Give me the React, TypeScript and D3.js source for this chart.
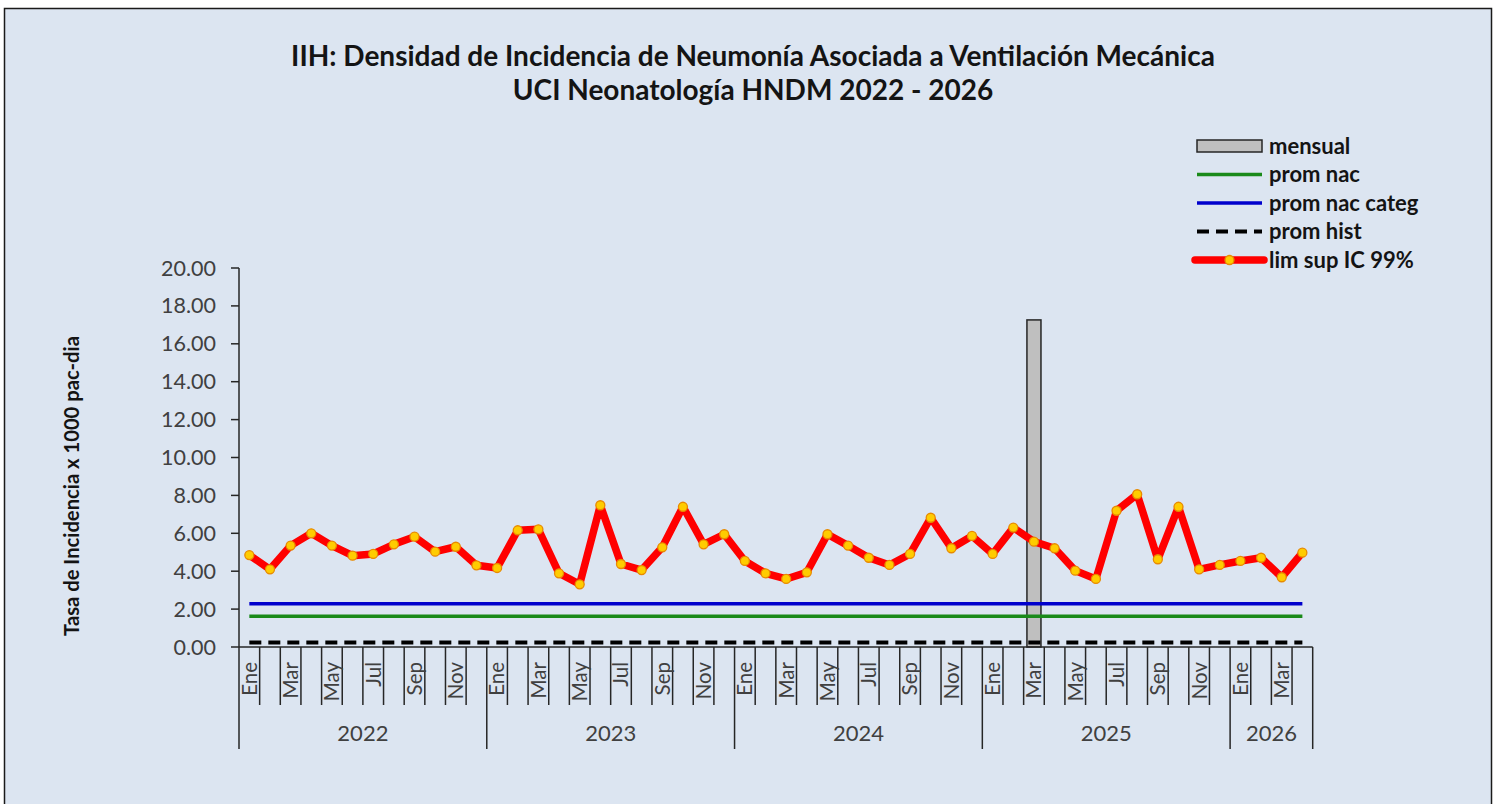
import React from "react";
import * as d3 from "d3";

const monthNames = ["Ene", "Feb", "Mar", "Abr", "May", "Jun", "Jul", "Ago", "Sep", "Oct", "Nov", "Dic"];
const years = ["2022", "2023", "2024", "2025", "2026"];
const monthsPerYear = [12, 12, 12, 12, 4];

const limSup = [
  4.85, 4.10, 5.35, 6.00, 5.35, 4.82, 4.91, 5.42, 5.82, 5.03, 5.29, 4.31,
  4.17, 6.16, 6.21, 3.89, 3.31, 7.48, 4.38, 4.06, 5.26, 7.40, 5.42, 5.95,
  4.54, 3.89, 3.59, 3.94, 5.95, 5.35, 4.71, 4.33, 4.91, 6.82, 5.21, 5.86,
  4.91, 6.30, 5.56, 5.21, 4.03, 3.59, 7.19, 8.06, 4.63, 7.40, 4.10, 4.33,
  4.54, 4.71, 3.68, 4.98,
];
const mensual = [
  0, 0, 0, 0, 0, 0, 0, 0, 0, 0, 0, 0,
  0, 0, 0, 0, 0, 0, 0, 0, 0, 0, 0, 0,
  0, 0, 0, 0, 0, 0, 0, 0, 0, 0, 0, 0,
  0, 0, 17.26, 0, 0, 0, 0, 0, 0, 0, 0, 0,
  0, 0, 0, 0,
];
const promNac = 1.62;
const promNacCateg = 2.28;
const promHist = 0.24;
const yTicks = [0, 2, 4, 6, 8, 10, 12, 14, 16, 18, 20];

const titleLines = [
  "IIH: Densidad de Incidencia de Neumonía Asociada a Ventilación Mecánica",
  "UCI Neonatología HNDM 2022 - 2026",
];
const yTitle = "Tasa de Incidencia x 1000 pac-dia";
const legendLabels = ["mensual", "prom nac", "prom nac categ", "prom hist", "lim sup IC 99%"];

const FONT = "Lato, 'Open Sans', 'DejaVu Sans', sans-serif";

export default function App() {
  const W = 1494, H = 804;
  const left = 239, right = 1312.7, top = 268, bottom = 647;

  const cats: { year: string; month: string; idx: number; mi: number }[] = [];
  years.forEach((y, yi) => {
    for (let m = 0; m < monthsPerYear[yi]; m++) cats.push({ year: y, month: monthNames[m], idx: cats.length, mi: m });
  });
  const n = cats.length;

  const x = d3.scaleBand<number>().domain(d3.range(n)).range([left, right]).paddingInner(0.32).paddingOuter(0.16);
  const step = x.step();
  const cx = (i: number) => (x(i) as number) + x.bandwidth() / 2;
  const boundary = (i: number) => left + step * i;
  const y = d3.scaleLinear().domain([0, 20]).range([bottom, top]);

  const line = d3.line<number>().x((_, i) => cx(i)).y((d) => y(d));

  const yearStarts: number[] = [];
  let acc = 0;
  monthsPerYear.forEach((c) => { yearStarts.push(acc); acc += c; });

  const x0 = cx(0), x1 = cx(n - 1);
  const lg = { x0: 1197, x1: 1262, tx: 1269, rows: [146, 174.5, 203, 231.5, 260] };

  return (
    <svg width={W} height={H} style={{ position: "absolute", left: 0, top: 0, display: "block" }} fontFamily={FONT}>
      <rect x={0} y={0} width={W} height={H} fill="#ffffff" />
      <rect x={4.5} y={8.5} width={1487} height={830} fill="#dce5f1" stroke="#1a1a1a" strokeWidth={1.5} />

      {/* title */}
      {titleLines.map((t, i) => (
        <text key={i} x={753} y={66 + i * 34} textAnchor="middle" fontSize={28} fontWeight={700} fill="#141414">{t}</text>
      ))}

      {/* y axis title */}
      <text transform={`translate(79,486) rotate(-90)`} textAnchor="middle" fontSize={20.2} fontWeight={700} fill="#141414">{yTitle}</text>

      {/* bars */}
      {mensual.map((v, i) => v > 0 ? (
        <rect key={i} x={x(i)} y={y(v)} width={x.bandwidth()} height={y(0) - y(v)} fill="#bfbfbf" stroke="#262626" strokeWidth={1.5} />
      ) : null)}

      {/* reference lines */}
      <line x1={x0} x2={x1} y1={y(promNacCateg)} y2={y(promNacCateg)} stroke="#0000cc" strokeWidth={3.5} />
      <line x1={x0} x2={x1} y1={y(promNac)} y2={y(promNac)} stroke="#1a8a1a" strokeWidth={3.5} />
      <line x1={x0} x2={x1} y1={y(promHist)} y2={y(promHist)} stroke="#000000" strokeWidth={4} strokeDasharray="12 7" />

      {/* red line */}
      <path d={line(limSup) || ""} fill="none" stroke="#ff0000" strokeWidth={7.5} strokeLinejoin="round" />
      {limSup.map((v, i) => (
        <circle key={i} cx={cx(i)} cy={y(v)} r={4.5} fill="#ffcc00" stroke="#e88a00" strokeWidth={1.3} />
      ))}

      {/* y axis */}
      <line x1={left} x2={left} y1={top} y2={bottom} stroke="#262626" strokeWidth={1.5} />
      {yTicks.map((t) => (
        <g key={t}>
          <line x1={left - 8} x2={left} y1={y(t)} y2={y(t)} stroke="#262626" strokeWidth={1.5} />
          <text x={216} y={y(t)} dy="0.35em" textAnchor="end" fontSize={21.5} fill="#404040">{d3.format(".2f")(t)}</text>
        </g>
      ))}

      {/* x axis */}
      <line x1={left} x2={right} y1={bottom} y2={bottom} stroke="#262626" strokeWidth={1.5} />
      {d3.range(n + 1).map((i) => {
        const isYear = yearStarts.includes(i) || i === n;
        return <line key={i} x1={boundary(i)} x2={boundary(i)} y1={bottom} y2={isYear ? 749 : 705} stroke="#262626" strokeWidth={1.5} />;
      })}
      {cats.map((c) => c.mi % 2 === 0 ? (
        <text key={c.idx} transform={`translate(${cx(c.idx)},662) rotate(-90)`} dy="0.36em" textAnchor="end" fontSize={20.5} fill="#404040">{c.month}</text>
      ) : null)}
      {years.map((yr, yi) => {
        const a = boundary(yearStarts[yi]);
        const b = boundary(yearStarts[yi] + monthsPerYear[yi]);
        return <text key={yr} x={(a + b) / 2} y={741} textAnchor="middle" fontSize={22} fill="#404040">{yr}</text>;
      })}

      {/* legend */}
      <rect x={lg.x0} y={lg.rows[0] - 6} width={lg.x1 - lg.x0} height={12} fill="#bfbfbf" stroke="#262626" strokeWidth={1.5} />
      <line x1={lg.x0} x2={lg.x1} y1={lg.rows[1]} y2={lg.rows[1]} stroke="#1a8a1a" strokeWidth={3.5} />
      <line x1={lg.x0} x2={lg.x1} y1={lg.rows[2]} y2={lg.rows[2]} stroke="#0000cc" strokeWidth={3.5} />
      <line x1={lg.x0} x2={lg.x1} y1={lg.rows[3]} y2={lg.rows[3]} stroke="#000000" strokeWidth={4} strokeDasharray="12 7" />
      <line x1={lg.x0 - 2} x2={lg.x1 + 2} y1={lg.rows[4]} y2={lg.rows[4]} stroke="#ff0000" strokeWidth={7.5} strokeLinecap="round" />
      <circle cx={(lg.x0 + lg.x1) / 2} cy={lg.rows[4]} r={4.5} fill="#ffcc00" stroke="#e88a00" strokeWidth={1.3} />
      {legendLabels.map((l, i) => (
        <text key={l} x={lg.tx} y={lg.rows[i]} dy="0.35em" fontSize={22} fontWeight={700} fill="#141414">{l}</text>
      ))}
    </svg>
  );
}
